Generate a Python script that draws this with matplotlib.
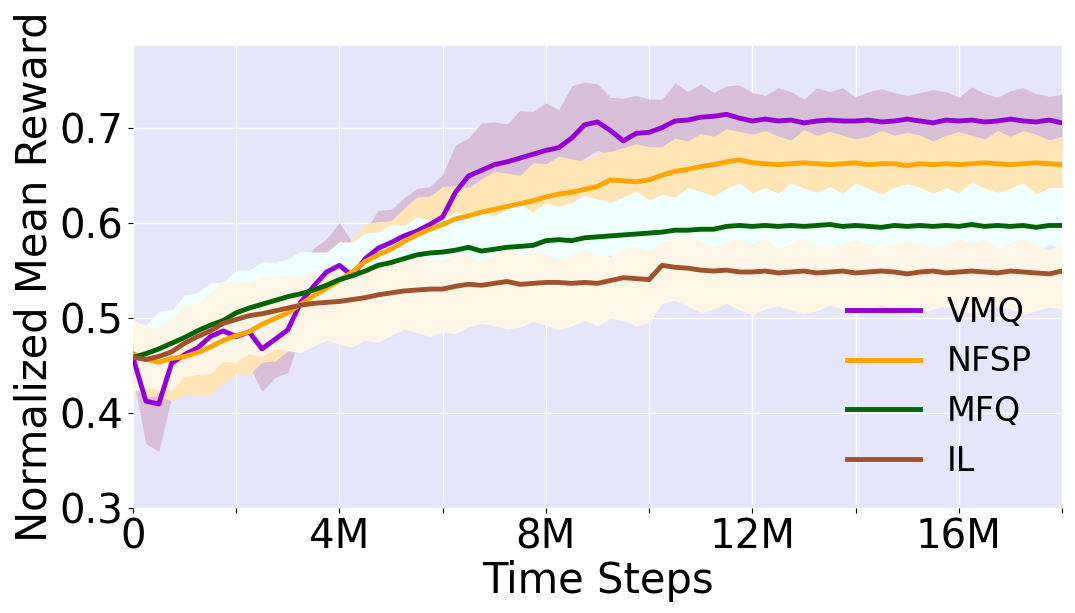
import numpy as np
import matplotlib
matplotlib.use("Agg")
import matplotlib.pyplot as plt

# time axis in millions of steps, sampled every 0.25M
steps = np.arange(0, 18.25, 0.25)

vmq_mean = [0.458, 0.412, 0.409, 0.452, 0.461, 0.468, 0.480, 0.486, 0.480, 0.485, 0.467, 0.477,
            0.487, 0.516, 0.533, 0.548, 0.555, 0.544, 0.562, 0.573, 0.579, 0.586, 0.591, 0.598,
            0.606, 0.632, 0.649, 0.655, 0.661, 0.664, 0.668, 0.672, 0.676, 0.679, 0.689, 0.703,
            0.706, 0.697, 0.686, 0.694, 0.695, 0.700, 0.707, 0.708, 0.711, 0.712, 0.714, 0.710,
            0.707, 0.709, 0.707, 0.708, 0.705, 0.707, 0.708, 0.707, 0.707, 0.708, 0.706, 0.707,
            0.709, 0.707, 0.705, 0.708, 0.707, 0.708, 0.706, 0.707, 0.709, 0.707, 0.706, 0.708,
            0.705]
nfsp_mean = [0.462, 0.456, 0.453, 0.457, 0.459, 0.463, 0.469, 0.476, 0.481, 0.485, 0.493, 0.499,
             0.505, 0.514, 0.523, 0.531, 0.539, 0.548, 0.559, 0.566, 0.572, 0.580, 0.587, 0.593,
             0.598, 0.604, 0.607, 0.611, 0.614, 0.617, 0.620, 0.623, 0.627, 0.630, 0.632, 0.635,
             0.638, 0.645, 0.644, 0.643, 0.645, 0.650, 0.654, 0.656, 0.659, 0.661, 0.664, 0.666,
             0.663, 0.662, 0.661, 0.662, 0.663, 0.662, 0.661, 0.662, 0.663, 0.661, 0.662, 0.662,
             0.660, 0.662, 0.661, 0.662, 0.661, 0.662, 0.663, 0.662, 0.661, 0.662, 0.663, 0.662,
             0.661]
mfq_mean = [0.458, 0.462, 0.467, 0.473, 0.479, 0.486, 0.492, 0.497, 0.505, 0.510, 0.514, 0.518,
            0.522, 0.525, 0.529, 0.534, 0.540, 0.544, 0.549, 0.555, 0.558, 0.562, 0.566, 0.568,
            0.569, 0.571, 0.574, 0.570, 0.572, 0.574, 0.575, 0.576, 0.581, 0.582, 0.581, 0.584,
            0.585, 0.586, 0.587, 0.588, 0.589, 0.590, 0.592, 0.592, 0.593, 0.593, 0.596, 0.597,
            0.596, 0.597, 0.596, 0.597, 0.596, 0.597, 0.598, 0.596, 0.597, 0.596, 0.595, 0.597,
            0.596, 0.597, 0.596, 0.597, 0.596, 0.598, 0.596, 0.597, 0.596, 0.597, 0.595, 0.597,
            0.597]
il_mean = [0.458, 0.456, 0.459, 0.464, 0.473, 0.480, 0.486, 0.494, 0.498, 0.502, 0.504, 0.507,
           0.510, 0.513, 0.515, 0.516, 0.517, 0.519, 0.521, 0.524, 0.526, 0.528, 0.529, 0.530,
           0.530, 0.533, 0.535, 0.534, 0.536, 0.538, 0.535, 0.536, 0.537, 0.537, 0.536, 0.537,
           0.536, 0.539, 0.542, 0.541, 0.540, 0.555, 0.553, 0.552, 0.550, 0.549, 0.550, 0.548,
           0.548, 0.549, 0.547, 0.548, 0.549, 0.547, 0.548, 0.549, 0.547, 0.548, 0.549, 0.548,
           0.546, 0.548, 0.549, 0.547, 0.548, 0.549, 0.548, 0.547, 0.549, 0.548, 0.547, 0.546,
           0.549]

# spread of the shaded bands above / below the mean
vmq_up = [0.020, 0.030, 0.025, 0.020, 0.030, 0.025, 0.020, 0.030, 0.025, 0.035, 0.030, 0.025,
          0.030, 0.035, 0.040, 0.035, 0.045, 0.035, 0.030, 0.040, 0.035, 0.040, 0.045, 0.040,
          0.045, 0.050, 0.040, 0.050, 0.045, 0.040, 0.050, 0.045, 0.050, 0.040, 0.055, 0.045,
          0.040, 0.035, 0.045, 0.040, 0.035, 0.030, 0.040, 0.030, 0.035, 0.025, 0.030, 0.035,
          0.030, 0.025, 0.035, 0.030, 0.025, 0.035, 0.030, 0.035, 0.025, 0.030, 0.035, 0.030,
          0.025, 0.030, 0.035, 0.030, 0.025, 0.035, 0.030, 0.025, 0.030, 0.035, 0.030, 0.025,
          0.030]
vmq_lo = [0.020, 0.045, 0.050, 0.035, 0.030, 0.035, 0.030, 0.035, 0.030, 0.035, 0.045, 0.040,
          0.045, 0.035, 0.030, 0.025, 0.030, 0.025, 0.030, 0.025, 0.030, 0.025, 0.030, 0.025,
          0.030, 0.035, 0.030, 0.025, 0.030, 0.025, 0.030, 0.035, 0.030, 0.025, 0.030, 0.035,
          0.030, 0.025, 0.030, 0.025, 0.030, 0.025, 0.030, 0.025, 0.030, 0.025, 0.020, 0.025,
          0.025, 0.020, 0.025, 0.030, 0.020, 0.025, 0.020, 0.025, 0.030, 0.025, 0.020, 0.025,
          0.020, 0.025, 0.030, 0.025, 0.020, 0.025, 0.030, 0.020, 0.025, 0.030, 0.025, 0.020,
          0.025]
nfsp_up = [0.030, 0.025, 0.035, 0.030, 0.025, 0.030, 0.035, 0.030, 0.025, 0.030, 0.035, 0.030,
           0.035, 0.030, 0.040, 0.035, 0.030, 0.035, 0.040, 0.035, 0.030, 0.035, 0.040, 0.035,
           0.040, 0.035, 0.030, 0.035, 0.040, 0.035, 0.030, 0.040, 0.035, 0.040, 0.035, 0.030,
           0.035, 0.030, 0.035, 0.040, 0.035, 0.030, 0.035, 0.030, 0.035, 0.030, 0.035, 0.030,
           0.030, 0.035, 0.030, 0.025, 0.035, 0.030, 0.035, 0.030, 0.025, 0.030, 0.035, 0.030,
           0.035, 0.030, 0.025, 0.030, 0.035, 0.030, 0.025, 0.035, 0.030, 0.035, 0.030, 0.025,
           0.030]
nfsp_lo = [0.035, 0.040, 0.035, 0.045, 0.040, 0.045, 0.050, 0.045, 0.040, 0.045, 0.040, 0.045,
           0.040, 0.035, 0.040, 0.035, 0.040, 0.035, 0.030, 0.035, 0.030, 0.035, 0.030, 0.035,
           0.030, 0.035, 0.040, 0.035, 0.030, 0.035, 0.040, 0.035, 0.030, 0.035, 0.040, 0.035,
           0.035, 0.040, 0.035, 0.030, 0.035, 0.040, 0.035, 0.030, 0.035, 0.040, 0.035, 0.040,
           0.035, 0.040, 0.035, 0.030, 0.035, 0.040, 0.035, 0.040, 0.035, 0.030, 0.035, 0.040,
           0.035, 0.040, 0.035, 0.030, 0.040, 0.035, 0.040, 0.035, 0.030, 0.035, 0.040, 0.035,
           0.035]
mfq_up = [0.035, 0.030, 0.040, 0.035, 0.045, 0.040, 0.045, 0.040, 0.045, 0.040, 0.045, 0.040,
          0.040, 0.045, 0.040, 0.035, 0.040, 0.035, 0.040, 0.035, 0.040, 0.035, 0.040, 0.035,
          0.035, 0.040, 0.035, 0.040, 0.035, 0.040, 0.045, 0.035, 0.040, 0.035, 0.040, 0.045,
          0.040, 0.035, 0.040, 0.045, 0.035, 0.040, 0.035, 0.045, 0.040, 0.035, 0.040, 0.045,
          0.035, 0.040, 0.035, 0.045, 0.040, 0.035, 0.040, 0.035, 0.045, 0.040, 0.035, 0.040,
          0.045, 0.040, 0.035, 0.040, 0.035, 0.045, 0.040, 0.035, 0.040, 0.045, 0.035, 0.040,
          0.040]
mfq_lo = [0.020, 0.025, 0.020, 0.025, 0.030, 0.025, 0.020, 0.025, 0.030, 0.025, 0.020, 0.025,
          0.025, 0.030, 0.025, 0.020, 0.025, 0.030, 0.025, 0.020, 0.025, 0.030, 0.025, 0.020,
          0.025, 0.030, 0.025, 0.020, 0.025, 0.030, 0.025, 0.030, 0.025, 0.020, 0.025, 0.030,
          0.025, 0.020, 0.025, 0.030, 0.025, 0.030, 0.025, 0.020, 0.025, 0.030, 0.025, 0.020,
          0.025, 0.030, 0.025, 0.020, 0.025, 0.030, 0.025, 0.030, 0.025, 0.020, 0.025, 0.030,
          0.025, 0.020, 0.025, 0.030, 0.025, 0.020, 0.025, 0.030, 0.025, 0.030, 0.025, 0.020,
          0.025]
il_up = [0.040, 0.035, 0.030, 0.035, 0.040, 0.035, 0.040, 0.045, 0.040, 0.035, 0.040, 0.035,
         0.035, 0.030, 0.035, 0.030, 0.035, 0.030, 0.035, 0.030, 0.035, 0.030, 0.035, 0.030,
         0.030, 0.035, 0.030, 0.025, 0.030, 0.035, 0.030, 0.035, 0.030, 0.025, 0.030, 0.035,
         0.030, 0.025, 0.030, 0.035, 0.030, 0.025, 0.030, 0.035, 0.030, 0.025, 0.030, 0.035,
         0.030, 0.035, 0.025, 0.030, 0.035, 0.030, 0.025, 0.030, 0.035, 0.030, 0.025, 0.030,
         0.035, 0.030, 0.025, 0.030, 0.035, 0.030, 0.035, 0.025, 0.030, 0.035, 0.030, 0.025,
         0.030]
il_lo = [0.035, 0.030, 0.035, 0.040, 0.035, 0.040, 0.045, 0.040, 0.045, 0.040, 0.045, 0.040,
         0.045, 0.050, 0.045, 0.040, 0.045, 0.050, 0.045, 0.050, 0.045, 0.040, 0.045, 0.050,
         0.045, 0.050, 0.045, 0.040, 0.045, 0.050, 0.045, 0.040, 0.045, 0.050, 0.045, 0.040,
         0.045, 0.040, 0.045, 0.050, 0.045, 0.040, 0.035, 0.040, 0.045, 0.040, 0.035, 0.040,
         0.045, 0.040, 0.035, 0.040, 0.045, 0.040, 0.035, 0.040, 0.045, 0.040, 0.035, 0.040,
         0.040, 0.045, 0.040, 0.035, 0.040, 0.045, 0.040, 0.035, 0.040, 0.045, 0.040, 0.035,
         0.040]

labels = ['VMQ', 'NFSP', 'MFQ', 'IL']
line_colors = ['darkviolet', 'orange', 'darkgreen', 'sienna']
band_colors = ['thistle', 'moccasin', 'azure', 'oldlace']
means = [vmq_mean, nfsp_mean, mfq_mean, il_mean]
ups = [vmq_up, nfsp_up, mfq_up, il_up]
los = [vmq_lo, nfsp_lo, mfq_lo, il_lo]

xtick_pos = [0, 2, 4, 6, 8, 10, 12, 14, 16, 18]
xtick_lab = ['0', '', '4M', '', '8M', '', '12M', '', '16M', '']
ytick_pos = [0.3, 0.4, 0.5, 0.6, 0.7]

fig = plt.figure(figsize=(10.75, 6.13), dpi=100)
ax = fig.add_axes([0.1237, 0.1721, 0.8642, 0.7529])
ax.set_facecolor('lavender')

for m, u, l, c in zip(means, ups, los, band_colors):
    m = np.array(m)
    ax.fill_between(steps, m - np.array(l), m + np.array(u), color=c, lw=0, zorder=1)

for m, c, lab in zip(means, line_colors, labels):
    ax.plot(steps, m, color=c, lw=3.5, label=lab, zorder=3)

ax.set_xlim(0, 18)
ax.set_ylim(0.3, 0.786)
ax.set_xticks(xtick_pos)
ax.set_xticklabels(xtick_lab)
ax.set_yticks(ytick_pos)
ax.tick_params(labelsize=29)
ax.grid(True, color='white', lw=1)
ax.set_axisbelow(True)
for s in ax.spines.values():
    s.set_visible(False)

ax.set_xlabel('Time Steps', fontsize=30, labelpad=2)
ax.set_ylabel('Normalized Mean Reward', fontsize=30, labelpad=3)
ax.legend(loc='lower right', fontsize=24, frameon=False, handlelength=2.2)

plt.savefig('out.png', dpi=100)
